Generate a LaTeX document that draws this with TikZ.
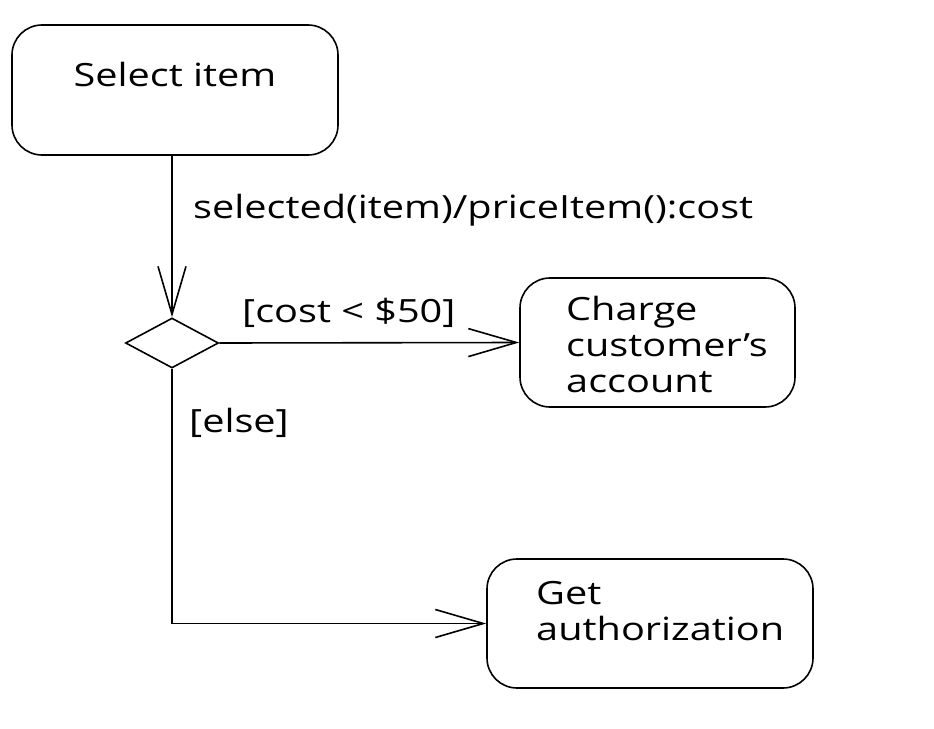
\documentclass[tikz,border=0pt]{standalone}
\usepackage{fontspec}
\setmainfont{Open Sans}[FakeStretch=1.24]
\usetikzlibrary{arrows.meta,shapes.geometric}
\tikzset{
  box/.style={draw, line width=1.6pt, rounded corners=30pt, inner sep=0pt},
  flow/.style={draw, line width=1.6pt, -{Straight Barb[length=48pt,width=28pt,line width=1.6pt]}},
  plain/.style={draw, line width=1.6pt},
  lbl/.style={inner sep=0pt, anchor=base west},
  txt/.style={inner sep=0pt, align=left, anchor=base west},
  every node/.style={font=\fontsize{32}{36}\selectfont}
}
\begin{document}
\begin{tikzpicture}[x=1pt,y=-1pt]
\useasboundingbox (0,0) rectangle (934,728);
\node[box, minimum width=326pt, minimum height=130pt] (sel) at (175,90) {};
\node[inner sep=0pt, anchor=base] (seltxt) at (175,86) {Select item};
\node[diamond, draw, line width=1.6pt, minimum width=93pt, minimum height=50pt, inner sep=0pt, aspect=1.86] (dec) at (172,343) {};
\node[box, minimum width=275pt, minimum height=129pt] (charge) at (657.5,342.5) {};
\node[txt] (chargetxt) at (566,392) {Charge\\customer’s\\account};
\node[box, minimum width=326pt, minimum height=129pt] (auth) at (650,623.5) {};
\node[txt] (authtxt) at (536,640) {Get\\authorization};
\coordinate (corner) at (dec.south |- auth.west);
\draw[flow] (sel.south -| dec.north) -- (dec.north);
\draw[flow] (dec.east) -- (charge.west);
\draw[plain] (dec.south) -- (corner);
\draw[flow] (corner) -- (auth.west);
\node[lbl] (l1) at (193,218) {selected(item)/priceItem():cost};
\node[lbl] (l2) at (242,322) {[cost < \$50]};
\node[lbl] (l3) at (189,432) {[else]};
\end{tikzpicture}
\end{document}
